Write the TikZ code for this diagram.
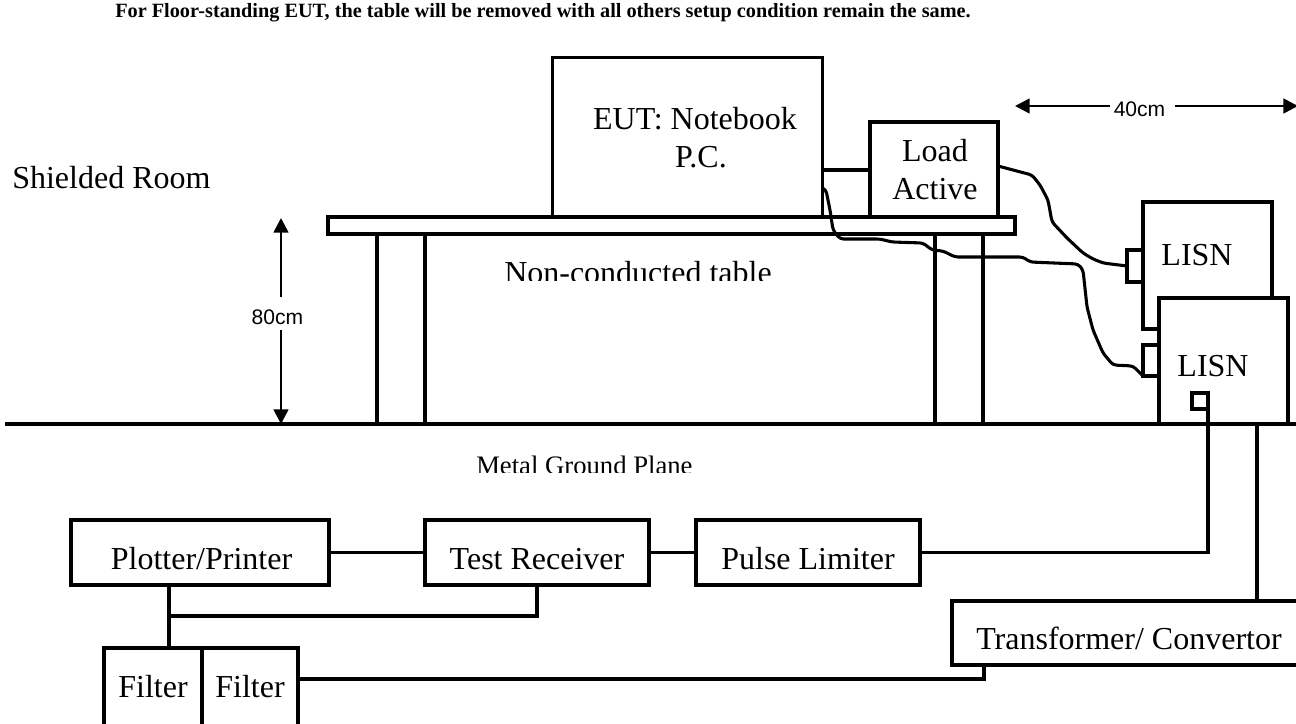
\documentclass[tikz,border=0pt]{standalone}
\usepackage{fontspec}
\setmainfont{Liberation Serif}
\newfontfamily\dimfont{Liberation Sans}
\usetikzlibrary{arrows.meta,calc}
\newcommand{\placed}[3]{\hspace*{\dimexpr #1\dimexpr 1.5pt\relax\relax}\raisebox{\dimexpr -#2\dimexpr 0.75pt\relax\relax}[0pt][0pt]{#3}}
\tikzset{
  box/.style={draw=black,line width=2.3pt,fill=white,inner sep=0pt,outer sep=0pt,font=\fontsize{24}{28.5}\selectfont},
  wh/.style 2 args={minimum width=#1*0.75pt,minimum height=#2*0.75pt},
  link/.style={draw=black,line width=2.3pt},
  wire/.style={draw=black,line width=2.3pt,rounded corners=2.5pt,line join=round},
  ground/.style={draw=black,line width=2.4pt},
  dim/.style={draw=black,line width=2pt,{Triangle[length=11pt,width=11pt]}-{Triangle[length=11pt,width=11pt]}},
  dimtext/.style={fill=white,inner sep=0pt,font=\dimfont\fontsize{15.8}{18}\selectfont},
  roomtext/.style={anchor=base west,inner sep=0pt,font=\fontsize{24}{28}\selectfont},
  smalltext/.style={anchor=base west,inner sep=0pt,font=\fontsize{20}{24}\selectfont},
  caption/.style={anchor=base west,inner sep=0pt,font=\bfseries\fontsize{15.2}{18}\selectfont}
}
\begin{document}
\begin{tikzpicture}[x=0.75pt,y=-0.75pt]
\useasboundingbox (0,0) rectangle (1296,724);
\fill[white] (0,0) rectangle (1296,724);
% texts
\node[caption] (cap) at (115,18) {For Floor-standing EUT, the table will be removed with all others setup condition remain the same.};
\node[roomtext] (room) at (12,188) {Shielded Room};
% equipment on the table
\node[box,wh={48}{190}] (legL) at (401,329) {};
\node[box,wh={48}{190}] (legR) at (959,329) {};
\node[box,wh={270}{160}] (eut) at (687.5,137.5) {\placed{7.5}{30}{\begin{tabular}[b]{@{}c@{}}EUT: Notebook\\\hspace*{9pt}P.C.\end{tabular}}};
\node[box,wh={128}{95}] (load) at (934,169.5) {\placed{1}{29.5}{\begin{tabular}[b]{@{}c@{}}Load\\Active\end{tabular}}};
\node[box,wh={687}{17}] (table) at (671.5,225.5) {};
\begin{scope}
  \clip (495,250) rectangle (790,280);
  \node[roomtext] (nct) at (504,283) {Non-conducted table};
\end{scope}
% LISNs
\node[box,wh={129}{127}] (lisnA) at (1207.5,265.5) {\placed{-10.5}{0}{LISN}};
\node[box,wh={129}{126}] (lisnB) at (1223.5,361) {\placed{-10.5}{15}{LISN}};
\node[box,wh={16}{32}] (portA) at (1135,266) {};
\node[box,wh={16}{31}] (portB) at (1151,360.5) {};
\node[box,wh={16}{16}] (sq) at (1200,401) {};
% ground plane
\coordinate (gl) at (5,424);
\coordinate (gr) at (1296,424);
\draw[ground] (gl) -- (gr);
\begin{scope}
  \clip (470,440) rectangle (710,472);
  \node[smalltext] (mgp) at (476,474) {Metal Ground Plane};
\end{scope}
% lower boxes
\node[box,wh={258}{65}] (plot) at (200,552.5) {\placed{1.5}{16.5}{Plotter/Printer}};
\node[box,wh={224}{65}] (recv) at (537,552.5) {\placed{0}{16.5}{Test Receiver}};
\node[box,wh={224}{65}] (pulse) at (808,552.5) {\placed{0}{16.5}{Pulse Limiter}};
\node[box,wh={98}{78}] (filtA) at (153,687) {\placed{0}{10}{Filter}};
\node[box,wh={96}{78}] (filtB) at (250,687) {\placed{0}{10}{Filter}};
\node[box,wh={354}{64}] (trans) at (1129,633) {\placed{0}{16}{Transformer/ Convertor}};
% connectors
\coordinate (hA) at (0,170);
\draw[link] (eut.east |- hA) -- (load.west |- hA);
\coordinate (wA) at (0,166);
\draw[wire] (load.east |- wA) -- (1013,170) -- (1032,175) -- (1040,185) -- (1048,200) -- (1052,222) -- (1067,238) -- (1083,253) -- (1093,259) -- (1103,263) -- (portA.west);
\coordinate (wB) at (0,188);
\draw[wire] (eut.east |- wB) -- (826,190) -- (830,210) -- (833,230) -- (840,239) -- (880,239) -- (892,242) -- (923,243) -- (932,250) -- (943,251) -- (955,257) -- (1023,257) -- (1030,262) -- (1078,264) -- (1083,270) -- (1087,307) -- (1093,330) -- (1103,353) -- (1113,365) -- (1133,366) -- (portB.south west);
\draw[link] (plot.east) -- (recv.west);
\draw[link] (recv.east) -- (pulse.west);
\draw[link] (pulse.east) -| (sq.south east);
\coordinate (jn) at (169,616);
\draw[link] (plot.south -| jn) -- (filtA.north -| jn);
\draw[link] (jn) -| (recv.south);
\coordinate (tx) at (984,679);
\draw[link] (filtB.east |- tx) -- (tx) -- (trans.south -| tx);
\coordinate (gj) at (1257,424);
\draw[link] (gj) -- (trans.north -| gj);
% dimensions
\coordinate (dL) at (1015,106);
\coordinate (dR) at (1298,106);
\draw[dim] (dL) -- (dR);
\node[dimtext,wh={65}{26}] (d40) at (1142.5,106) {\placed{-3}{10.5}{40cm}};
\coordinate (hT) at (281,218);
\coordinate (hB) at (281,424);
\draw[dim] (hT) -- (hB);
\node[dimtext,wh={52}{33}] (d80) at (277.5,313.5) {\placed{0}{11}{80cm}};
\end{tikzpicture}
\end{document}
